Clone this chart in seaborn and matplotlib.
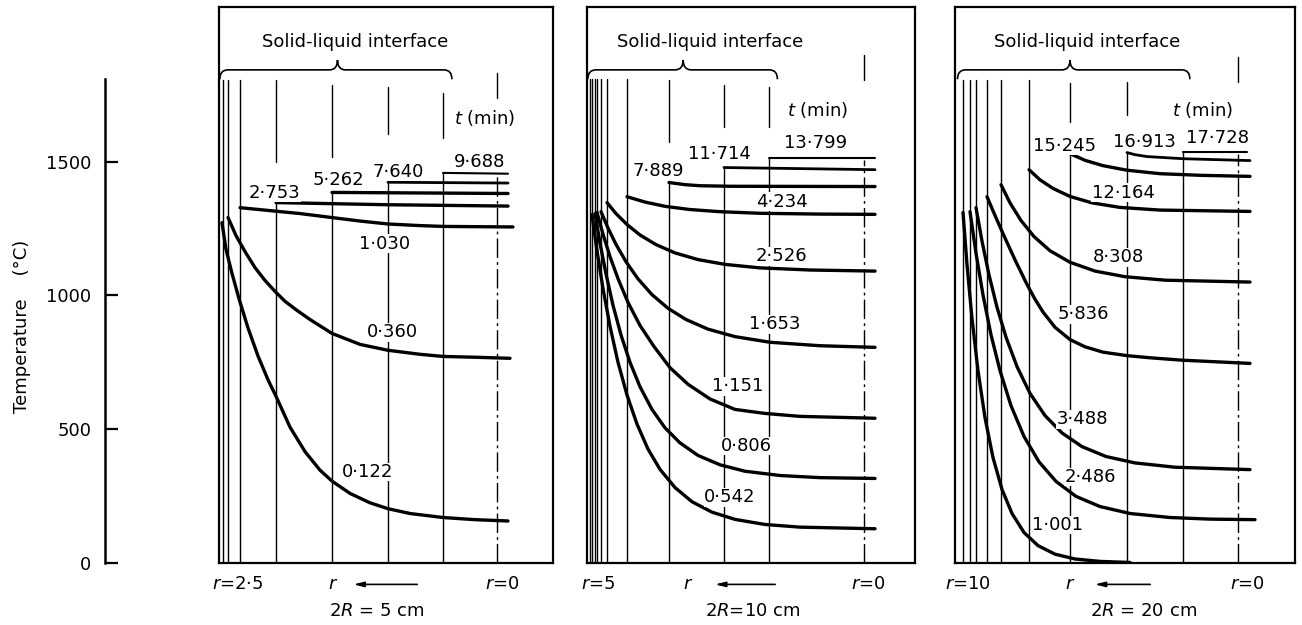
import matplotlib
matplotlib.use("Agg")
import matplotlib.pyplot as plt
import seaborn as sns
import pandas as pd
from matplotlib.path import Path
from matplotlib.patches import PathPatch

sns.set_style("white")
plt.rcParams['font.family'] = ['DejaVu Sans']
plt.rcParams['mathtext.fontset'] = 'dejavusans'
for k in ['text.color', 'axes.labelcolor', 'xtick.color', 'ytick.color', 'axes.edgecolor']:
    plt.rcParams[k] = 'black'

# ---------------- data ----------------
# Panel A : 2R = 5 cm   (r in cm, T in deg C)
a_times = ["0·122", "0·360", "1·030", "2·753", "5·262", "7·640", "9·688"]
a_r = [
    [2.50, 2.464, 2.409, 2.345, 2.264, 2.173, 2.082, 2.009, 1.882, 1.745, 1.609, 1.50,
     1.336, 1.155, 0.991, 0.791, 0.491, 0.20, -0.10],
    [2.445, 2.373, 2.291, 2.20, 2.109, 2.018, 1.927, 1.818, 1.70, 1.50, 1.245, 0.991,
     0.70, 0.491, 0.20, -0.118],
    [2.336, 2.064, 1.791, 1.50, 1.245, 0.991, 0.70, 0.491, 0.20, -0.145],
    [2.009, 1.00, -0.10],
    [1.50, -0.10],
    [0.991, -0.10],
    [0.491, -0.10],
]
a_T = [
    [1272, 1173, 1082, 987, 879, 774, 685, 623, 508, 416, 347, 306,
     260, 225, 203, 185, 170, 162, 157],
    [1291, 1224, 1164, 1104, 1056, 1015, 978, 944, 910, 858, 817, 795,
     780, 772, 769, 765],
    [1328, 1317, 1306, 1291, 1278, 1267, 1261, 1258, 1257, 1256],
    [1347, 1339, 1334],
    [1385, 1381],
    [1423, 1420],
    [1458, 1455],
]
a_front = [2.49, 2.445, 2.336, 2.009, 1.50, 0.991, 0.491]

# Panel B : 2R = 10 cm
b_times = ["0·542", "0·806", "1·151", "1·653", "2·526", "4·234", "7·889", "11·714", "13·799"]
b_r = [
    [4.964, 4.872, 4.763, 4.635, 4.489, 4.325, 4.142, 3.942, 3.723, 3.449, 3.139, 2.774,
     2.354, 1.807, 1.168, -0.201],
    [4.909, 4.818, 4.708, 4.580, 4.434, 4.270, 4.088, 3.869, 3.631, 3.358, 3.029, 2.628,
     2.172, 1.533, 0.803, -0.201],
    [4.872, 4.763, 4.635, 4.489, 4.307, 4.088, 3.832, 3.540, 3.212, 2.810, 2.354, 1.807,
     1.168, -0.201],
    [4.799, 4.672, 4.526, 4.343, 4.124, 3.869, 3.577, 3.248, 2.847, 2.354, 1.715, 0.803,
     -0.201],
    [4.690, 4.526, 4.325, 4.088, 3.796, 3.449, 3.029, 2.536, 1.898, 0.985, -0.201],
    [4.325, 3.996, 3.631, 3.175, 2.628, 1.898, 0.803, -0.201],
    [3.558, 3.266, 2.993, 2.445, -0.201],
    [2.555, -0.201],
    [1.734, -0.201],
]
b_T = [
    [1302, 1167, 1026, 885, 750, 628, 519, 426, 350, 282, 229, 190, 163, 144, 134, 128],
    [1306, 1196, 1080, 963, 852, 750, 659, 574, 505, 449, 402, 367, 343, 327, 319, 316],
    [1310, 1229, 1145, 1063, 974, 888, 809, 730, 668, 613, 574, 559, 548, 541],
    [1313, 1252, 1191, 1126, 1062, 1003, 952, 910, 874, 846, 825, 812, 806],
    [1347, 1306, 1265, 1226, 1190, 1159, 1134, 1116, 1103, 1095, 1091],
    [1369, 1349, 1333, 1321, 1313, 1307, 1304, 1303],
    [1422, 1414, 1410, 1408, 1407],
    [1478, 1470],
    [1515, 1515],
]
b_front = [5.0, 4.964, 4.909, 4.872, 4.799, 4.690, 4.325, 3.558, 2.555, 1.734]

# Panel C : 2R = 20 cm
c_times = ["1·001", "2·486", "3·488", "5·836", "8·308", "12·164", "15·245", "16·913", "17·728"]
c_r = [
    [10.0, 9.855, 9.673, 9.455, 9.20, 8.909, 8.582, 8.218, 7.782, 7.273, 6.655, 5.927,
     5.018, 3.927],
    [9.745, 9.527, 9.273, 8.982, 8.655, 8.255, 7.782, 7.236, 6.618, 5.891, 5.018, 3.927,
     2.473, 1.018, -0.618],
    [9.527, 9.309, 9.055, 8.764, 8.436, 8.036, 7.564, 7.018, 6.400, 5.673, 4.800, 3.745,
     2.291, -0.436],
    [9.127, 8.836, 8.545, 8.109, 7.673, 7.382, 7.091, 6.655, 6.109, 5.564, 4.909, 4.036,
     3.20, 2.036, -0.436],
    [8.618, 8.291, 7.891, 7.418, 6.836, 6.109, 5.200, 4.109, 2.655, -0.436],
    [7.60, 7.20, 6.727, 6.109, 5.309, 4.291, 2.836, -0.436],
    [6.109, 5.564, 4.909, 4.036, 2.836, 1.382, -0.436],
    [4.036, 3.745, 3.309, 2.00, -0.436],
    [2.00, -0.327],
]
c_T = [
    [1310, 1116, 914, 719, 543, 394, 275, 185, 114, 65, 33, 15, 6, 2],
    [1313, 1158, 1002, 853, 719, 588, 473, 378, 305, 249, 211, 185, 170, 164, 162],
    [1328, 1203, 1077, 956, 844, 734, 634, 551, 486, 435, 398, 374, 358, 349],
    [1369, 1299, 1231, 1133, 1041, 986, 938, 881, 835, 808, 788, 775, 767, 758, 746],
    [1414, 1346, 1280, 1220, 1167, 1124, 1091, 1070, 1057, 1050],
    [1470, 1432, 1400, 1370, 1346, 1329, 1319, 1314],
    [1530, 1505, 1485, 1468, 1455, 1449, 1445],
    [1534, 1526, 1519, 1511, 1504],
    [1537, 1537],
]
c_front = [10.0, 9.745, 9.527, 9.127, 8.618, 7.60, 6.109, 4.036, 2.00]

y_ticks = [0, 500, 1000, 1500]

# ---------------- layout helpers ----------------
W, H = 1302, 625
fig = plt.figure(figsize=(W / 100, H / 100), dpi=100)

Y_TOP = 2078          # temperature at the top edge of the frames


def px_axes(x0, x1, y0=7, y1=563):
    return fig.add_axes([x0 / W, 1 - y1 / H, (x1 - x0) / W, (y1 - y0) / H])


FS = 13

# y axis (separate)
ay = px_axes(60, 120)
ay.set_ylim(0, Y_TOP)
ay.set_xlim(0, 1)
for s in ['top', 'right', 'bottom']:
    ay.spines[s].set_visible(False)
ay.spines['left'].set_position(('axes', 45 / 60))
ay.spines['left'].set_linewidth(1.8)
ay.spines['left'].set_bounds(0, 1810)
ay.set_xticks([])
ay.set_yticks(y_ticks)
ay.set_yticklabels([str(v) for v in y_ticks], fontsize=FS)
ay.tick_params(axis='y', left=True, direction='in', length=9, width=1.6, pad=10)
ay.patch.set_alpha(0)
fig.text(22 / W, 1 - 326 / H, "Temperature    (°C)", rotation=90, ha='center', va='center',
         fontsize=13)


def brace(ax, xl, xr, xm, d):
    h, e, t = 1843, 1808, 1880
    verts = [(xl, e), (xl, h), (xl - d, h), (xm + d, h), (xm, h), (xm, t),
             (xm, h), (xm - d, h), (xr + d, h), (xr, h), (xr, e)]
    codes = [Path.MOVETO, Path.CURVE3, Path.CURVE3, Path.LINETO, Path.CURVE3, Path.CURVE3,
             Path.CURVE3, Path.CURVE3, Path.LINETO, Path.CURVE3, Path.CURVE3]
    ax.add_patch(PathPatch(Path(verts, codes), fill=False, lw=1.2, color='black',
                           clip_on=False))


def panel(xpx0, xpx1, rmax_px, r0_px, R, times, rs, Ts, front, tops, gaps,
          lab_pos, brace_x, sli_x, tmin_pos, center_top, bottom):
    ax = px_axes(xpx0, xpx1)
    scale = (r0_px - rmax_px) / R
    ax.set_xlim((r0_px - xpx0) / scale, (r0_px - xpx1) / scale)
    ax.set_ylim(0, Y_TOP)
    ax.set_xticks([])
    ax.set_yticks([])
    for s in ax.spines.values():
        s.set_linewidth(1.6)
        s.set_color('black')

    # interface lines (extra leading entries = mould wall)
    n_extra = len(front) - len(times)
    for j, rf in enumerate(front):
        if j < n_extra:
            ax.plot([rf, rf], [0, 1810], color='black', lw=1.0, zorder=2)
            continue
        i = j - n_extra
        ax.plot([rf, rf], [0, Ts[i][0]], color='black', lw=1.0, zorder=2)
        if tops[i] is not None:
            lo = Ts[i][0] + gaps[i]
            if lo < tops[i]:
                ax.plot([rf, rf], [lo, tops[i]], color='black', lw=1.0, zorder=2)
    # centre line
    ax.plot([0, 0], [center_top - 95, center_top], color='black', lw=1.0)
    ax.plot([0, 0], [0, max(t[0] for t in Ts) - 10], color='black', lw=1.0,
            ls=(0, (14, 3, 2, 3)))

    # curves
    nlast = len(times)
    for i, (r, T) in enumerate(zip(rs, Ts)):
        df = pd.DataFrame({'r': r, 'T': T})
        lw = 2.4 if i < nlast - 2 else (2.0 if i == nlast - 2 else 1.5)
        sns.lineplot(data=df, x='r', y='T', ax=ax, color='black', lw=lw,
                     sort=False, estimator=None, zorder=4)
        ax.text(lab_pos[i][0], lab_pos[i][1], times[i], fontsize=FS, ha='center',
                va='center', zorder=6,
                bbox=dict(facecolor='white', edgecolor='none', pad=0.3))
    ax.set_xlabel('')
    ax.set_ylabel('')

    brace(ax, brace_x[0], brace_x[1], brace_x[2], 8 / scale)
    ax.text(sli_x, 1948, "Solid-liquid interface", fontsize=13, ha='center', va='center')
    ax.text(tmin_pos[0], tmin_pos[1], "$t$ (min)", fontsize=FS, ha='center', va='center',
            zorder=6, bbox=dict(facecolor='white', edgecolor='none', pad=0.5))

    # bottom annotations
    (rw_x, rw_txt), (r_x, arr_head, arr_tail), r0_x, (cap_x, cap_txt) = bottom
    yb = -80
    ax.text(rw_x, yb, rw_txt, fontsize=FS, ha='center', va='center', clip_on=False)
    ax.text(r_x, yb, "$r$", fontsize=FS, ha='center', va='center', clip_on=False)
    ax.annotate('', xy=(arr_head, yb), xytext=(arr_tail, yb), annotation_clip=False,
                arrowprops=dict(arrowstyle='-|>,head_length=0.6,head_width=0.15',
                                color='black', lw=1.2))
    ax.text(r0_x, yb, "$r$=0", fontsize=FS, ha='center', va='center', clip_on=False)
    ax.text(cap_x, -180, cap_txt, fontsize=FS, ha='center', va='center', clip_on=False)
    return ax


# Panel A
panel(219, 553, 222, 497, 2.5, a_times, a_r, a_T, a_front,
      tops=[1806, 1806, 1806, 1806, 1787, 1780, 1757],
      gaps=[0, 0, 0, 150, 134, 180, 130],
      lab_pos=[(1.18, 340), (0.955, 862), (1.02, 1194), (2.02, 1384), (1.445, 1433),
               (0.90, 1463), (0.155, 1500)],
      brace_x=(2.52, 0.41, 1.45), sli_x=1.29, tmin_pos=(0.11, 1664), center_top=1832,
      bottom=((2.36, "$r$=2·5"), (1.49, 1.33, 0.70), -0.05, (1.09, "2$R$ = 5 cm")))

# Panel B
panel(587, 915, 590, 864, 5.0, b_times, b_r, b_T, b_front,
      tops=[1810, 1810, 1810, 1810, 1810, 1810, 1806, 1787, 1780],
      gaps=[0, 0, 0, 0, 0, 0, 150, 150, 115],
      lab_pos=[(2.45, 246), (2.14, 437), (2.30, 660), (1.62, 892), (1.50, 1146),
               (1.50, 1351), (3.76, 1466), (2.63, 1530), (0.876, 1571)],
      brace_x=(5.04, 1.58, 3.3), sli_x=2.81, tmin_pos=(0.84, 1694), center_top=1899,
      bottom=((4.85, "$r$=5"), (3.21, 2.77, 1.57), -0.07, (2.03, "2$R$=10 cm")))

# Panel C
panel(955, 1295, 963, 1238, 10.0, c_times, c_r, c_T, c_front,
      tops=[1806, 1806, 1806, 1806, 1806, 1806, 1795, 1798, None],
      gaps=[0, 0, 0, 0, 0, 0, 120, 140, 0],
      lab_pos=[(6.55, 142), (5.38, 321), (5.67, 537), (5.64, 929), (4.36, 1142),
               (4.18, 1384), (6.29, 1560), (3.42, 1575), (0.76, 1590)],
      brace_x=(10.2, 1.75, 6.11), sli_x=5.49, tmin_pos=(1.27, 1694), center_top=1892,
      bottom=((9.82, "$r$=10"), (6.11, 5.31, 3.09), -0.33, (3.45, "2$R$ = 20 cm")))

fig.savefig("out.png", dpi=100)
